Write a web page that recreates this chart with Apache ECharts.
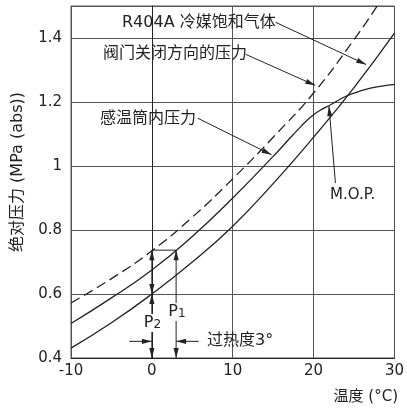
<!DOCTYPE html>
<html>
<head>
<meta charset="utf-8">
<script src="https://cdn.jsdelivr.net/npm/echarts@6/dist/echarts.min.js"></script>
<style>
html,body{margin:0;padding:0;background:#fff;}
#chart{width:407px;height:413px;}
</style>
</head>
<body>
<div id="chart"></div>
<script>
// ---- data ----
const xTicks = [-10, 0, 10, 20, 30];
const yTicks = [0.4, 0.6, 0.8, 1, 1.2, 1.4];

// R404A saturated vapour (lower solid)
const satTemp = [-10, -5, 0, 5, 10, 15, 20, 25, 30];
const satPressure = [0.431, 0.51, 0.600, 0.70, 0.812, 0.945, 1.09, 1.245, 1.415];

// bulb pressure with M.O.P. (middle solid)
const bulbTemp = [-10, -5, 0, 5, 10, 15, 17, 18, 19, 20, 21, 22, 24, 26, 28, 30];
const bulbPressure = [0.508, 0.588, 0.675, 0.78, 0.90, 1.03, 1.085, 1.112, 1.138, 1.16, 1.177, 1.19, 1.218, 1.236, 1.248, 1.255];

// valve closing pressure (dashed)
const valveTemp = [-10, -5, 0, 5, 10, 15, 20, 25, 28];
const valvePressure = [0.572, 0.648, 0.735, 0.84, 0.96, 1.09, 1.228, 1.395, 1.505];

// annotation arrows in data space
const arrowFromT = [15.3, 11.6, 5.7, 22.7, 0, 0, 3, -2.8, 5.8, 0];
const arrowFromP = [1.449, 1.349, 1.149, 0.947, 0.6, 0.4, 0.4, 0.452, 0.452, 0.737];
const arrowToT   = [26.5, 20.2, 14.8, 21.9, 0, 0, 3, 0, 3, 3];
const arrowToP   = [1.317, 1.252, 1.035, 1.187, 0.737, 0.6, 0.737, 0.452, 0.452, 0.737];
const arrowHeadStart = [0, 0, 0, 0, 1, 1, 1, 0, 0, 0];
const arrowHeadEnd   = [1, 1, 1, 1, 1, 1, 1, 1, 1, 0];

const pair = (xs, ys) => xs.map((x, i) => [x, ys[i]]);
const arrowData = arrowFromT.map((x, i) => [x, arrowFromP[i], arrowToT[i], arrowToP[i], arrowHeadStart[i], arrowHeadEnd[i]]);

const FONT = "'DejaVu Sans', 'Noto Sans CJK SC', sans-serif";
const INK = '#222';

function head(tip, from, L, W) {
  const dx = tip[0] - from[0], dy = tip[1] - from[1];
  const len = Math.sqrt(dx * dx + dy * dy) || 1;
  const ux = dx / len, uy = dy / len;
  const bx = tip[0] - ux * L, by = tip[1] - uy * L;
  return {
    type: 'polygon',
    shape: { points: [tip, [bx - uy * W, by + ux * W], [bx + uy * W, by - ux * W]] },
    style: { fill: INK }
  };
}

const chart = echarts.init(document.getElementById('chart'), null, { renderer: 'canvas' });
chart.setOption({
  animation: false,
  backgroundColor: '#fff',
  grid: { left: 71, right: 11, top: 6, bottom: 55, show: true, borderColor: '#555', borderWidth: 1 },
  xAxis: {
    type: 'value', min: -10, max: 30, interval: 10,
    axisLine: { show: true, lineStyle: { color: INK, width: 1 } },
    axisTick: { show: false },
    splitLine: { show: true, lineStyle: { color: '#555', width: 1 } },
    axisLabel: {
      color: INK, fontSize: 15, fontFamily: FONT, margin: 6,
      formatter: v => (xTicks.indexOf(v) >= 0 ? String(v) : '')
    }
  },
  yAxis: {
    type: 'value', min: 0.4, max: 1.5, interval: 0.2,
    axisLine: { show: true, lineStyle: { color: INK, width: 1 } },
    axisTick: { show: false },
    splitLine: { show: true, lineStyle: { color: '#555', width: 1 } },
    axisLabel: {
      color: INK, fontSize: 15, fontFamily: FONT, margin: 9, showMaxLabel: false,
      formatter: v => {
        const t = yTicks.find(k => Math.abs(k - v) < 1e-6);
        return t === undefined ? '' : String(t);
      }
    }
  },
  series: [
    {
      type: 'line', name: 'R404A', data: pair(satTemp, satPressure), smooth: true,
      showSymbol: false, lineStyle: { color: INK, width: 1.3 }, z: 3
    },
    {
      type: 'line', name: 'bulb', data: pair(bulbTemp, bulbPressure), smooth: true,
      showSymbol: false, lineStyle: { color: INK, width: 1.3 }, z: 3
    },
    {
      type: 'line', name: 'valve', data: pair(valveTemp, valvePressure), smooth: true,
      showSymbol: false, lineStyle: { color: INK, width: 1.3, type: [10, 5] }, z: 3
    },
    {
      type: 'custom', name: 'arrows', data: arrowData, z: 4,
      encode: { x: [0, 2], y: [1, 3] },
      renderItem: (params, api) => {
        const p1 = api.coord([api.value(0), api.value(1)]);
        const p2 = api.coord([api.value(2), api.value(3)]);
        const children = [{
          type: 'line',
          shape: { x1: p1[0], y1: p1[1], x2: p2[0], y2: p2[1] },
          style: { stroke: INK, lineWidth: 1 }
        }];
        if (api.value(4)) children.push(head(p1, p2, 10, 2.6));
        if (api.value(5)) children.push(head(p2, p1, 10, 2.6));
        return { type: 'group', children };
      }
    }
  ],
  graphic: [
    { type: 'text', x: 122, y: 23, z: 100, style: { text: 'R404A 冷媒饱和气体', font: '16px ' + FONT, fill: INK, verticalAlign: 'middle' } },
    { type: 'text', x: 103, y: 54, z: 100, style: { text: '阀门关闭方向的压力', font: '16px ' + FONT, fill: INK, verticalAlign: 'middle' } },
    { type: 'text', x: 100, y: 119, z: 100, style: { text: '感温筒内压力', font: '16px ' + FONT, fill: INK, verticalAlign: 'middle' } },
    { type: 'text', x: 330, y: 195, z: 100, style: { text: 'M.O.P.', font: '15px ' + FONT, fill: INK, verticalAlign: 'middle' } },
    { type: 'text', x: 152.5, y: 323, z: 100, style: {
        text: '{a|P}{b|2}', align: 'center', verticalAlign: 'middle', backgroundColor: '#fff', padding: [1, 0],
        rich: { a: { font: '16px ' + FONT, fill: INK, verticalAlign: 'bottom' }, b: { font: '12px ' + FONT, fill: INK, verticalAlign: 'bottom' } } } },
    { type: 'text', x: 177, y: 312, z: 100, style: {
        text: '{a|P}{b|1}', align: 'center', verticalAlign: 'middle', backgroundColor: '#fff', padding: [1, 0],
        rich: { a: { font: '16px ' + FONT, fill: INK, verticalAlign: 'bottom' }, b: { font: '12px ' + FONT, fill: INK, verticalAlign: 'bottom' } } } },
    { type: 'text', x: 207, y: 341, z: 100, style: { text: '过热度3°', font: '16px ' + FONT, fill: INK, verticalAlign: 'middle' } },
    { type: 'text', x: 398, y: 397, z: 100, style: { text: '温度 (°C)', font: '15px ' + FONT, fill: INK, align: 'right', verticalAlign: 'middle' } },
    { type: 'text', x: 18, y: 172, z: 100, rotation: Math.PI / 2, style: { text: '绝对压力 (MPa (abs))', font: '16px ' + FONT, fill: INK, align: 'center', verticalAlign: 'middle' } }
  ]
});
</script>
</body>
</html>
